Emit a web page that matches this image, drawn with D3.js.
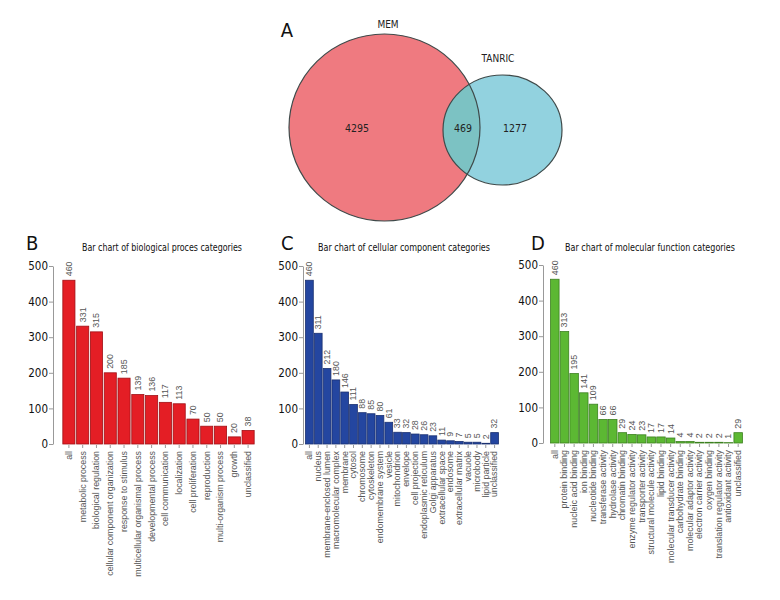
<!DOCTYPE html>
<html><head><meta charset="utf-8">
<script src="https://cdn.jsdelivr.net/npm/d3@7"></script>
<style>body{margin:0;background:#fff}text{font-family:"DejaVu Sans Condensed","DejaVu Sans",sans-serif;font-stretch:condensed}
text.cat,text.val{font-family:"Liberation Sans",Arial,sans-serif;font-stretch:normal}</style>
</head><body>
<svg id="chart" width="780" height="600"></svg>
<script>
// Venn data
const vennSets = ["MEM", "TANRIC"];
const vennCounts = [4295, 469, 1277]; // MEM only, both, TANRIC only

// Panel B
const bpCategories = ["all","metabolic process","biological regulation","cellular component organization","response to stimulus","multicellular organismal process","developmental process","cell communication","localization","cell proliferation","reproduction","multi-organism process","growth","unclassified"];
const bpValues = [460,331,315,200,185,139,136,117,113,70,50,50,20,38];

// Panel C
const ccCategories = ["all","nucleus","membrane-enclosed lumen","macromolecular complex","membrane","cytosol","chromosome","cytoskeleton","endomembrane system","vesicle","mitochondrion","envelope","cell projection","endoplasmic reticulum","Golgi apparatus","extracellular space","endosome","extracellular matrix","vacuole","microbody","lipid particle","unclassified"];
const ccValues = [460,311,212,180,146,111,88,85,80,61,33,32,28,26,23,11,9,7,5,5,2,32];

// Panel D
const mfCategories = ["all","protein binding","nucleic acid binding","ion binding","nucleotide binding","transferase activity","hydrolase activity","chromatin binding","enzyme regulator activity","transporter activity","structural molecule activity","lipid binding","molecular transducer activity","carbohydrate binding","molecular adaptor activity","electron carrier activity","oxygen binding","translation regulator activity","antioxidant activity","unclassified"];
const mfValues = [460,313,195,141,109,66,66,29,24,23,17,17,14,4,4,2,2,2,1,29];

const yTicks = [0,100,200,300,400,500];

const svg = d3.select("#chart");

// ---- Venn ----
const venn = svg.append("g");
const clipId = "clipMem";
svg.append("defs").append("clipPath").attr("id", clipId)
  .append("ellipse").attr("cx",384.5).attr("cy",127.5).attr("rx",95.5).attr("ry",93.5);
venn.append("ellipse").attr("cx",384.5).attr("cy",127.5).attr("rx",95.5).attr("ry",93.5)
  .attr("fill","#ef7a80");
venn.append("ellipse").attr("cx",502.5).attr("cy",130).attr("rx",59.5).attr("ry",55)
  .attr("fill","#92d2df");
venn.append("ellipse").attr("cx",502.5).attr("cy",130).attr("rx",59.5).attr("ry",55)
  .attr("fill","#7cc2c3").attr("clip-path","url(#"+clipId+")");
venn.append("ellipse").attr("cx",384.5).attr("cy",127.5).attr("rx",95.5).attr("ry",93.5)
  .attr("fill","none").attr("stroke","#3f4a4a").attr("stroke-width",1.2);
venn.append("ellipse").attr("cx",502.5).attr("cy",130).attr("rx",59.5).attr("ry",55)
  .attr("fill","none").attr("stroke","#3f4a4a").attr("stroke-width",1.2);
venn.append("text").attr("x",388).attr("y",28).attr("text-anchor","middle").attr("font-size",10).attr("fill","#222").text(vennSets[0]);
venn.append("text").attr("x",498).attr("y",62).attr("text-anchor","middle").attr("font-size",10).attr("fill","#222").text(vennSets[1]);
[[357,vennCounts[0]],[463,vennCounts[1]],[515,vennCounts[2]]].forEach(d=>{
  venn.append("text").attr("x",d[0]).attr("y",132).attr("text-anchor","middle").attr("font-size",10.5).attr("fill","#222").text(d[1]);
});
venn.append("text").attr("x",287).attr("y",37).attr("text-anchor","middle").attr("font-size",20).attr("fill","#111").text("A");

// ---- Bar panels ----
function barPanel(opt){
  const g = svg.append("g");
  const y = d3.scaleLinear().domain([0,500]).range([opt.y0, opt.y500]);
  const x = d3.scaleBand().domain(opt.cats).range([opt.x0, opt.x1]).paddingInner(opt.pad).paddingOuter(opt.pad/2);
  const ax = g.append("g").attr("transform",`translate(${opt.axisX},0)`)
    .call(d3.axisLeft(y).tickValues(yTicks).tickSize(4).tickSizeOuter(0).tickFormat(d3.format("d")));
  ax.select(".domain").attr("stroke","#999");
  ax.selectAll(".tick line").attr("stroke","#999");
  ax.selectAll(".tick text").attr("font-size",11.5).attr("fill","#111").attr("font-family",null).attr("x",-5);
  g.selectAll("rect.bar").data(opt.vals).join("rect").attr("class","bar")
    .attr("x",(d,i)=>x(opt.cats[i])).attr("width",x.bandwidth())
    .attr("y",d=>y(d)).attr("height",d=>opt.y0-y(d))
    .attr("fill",opt.fill).attr("stroke",opt.stroke).attr("stroke-width",0.8);
  // x ticks
  const xa = g.append("g").attr("transform",`translate(0,${opt.y0+1})`)
    .call(d3.axisBottom(x).tickSize(3).tickFormat(""));
  xa.select(".domain").remove();
  xa.selectAll(".tick line").attr("stroke","#999");
  // category labels
  const cats = g.selectAll("text.cat").data(opt.cats).join("text").attr("class","cat")
    .attr("text-anchor","end").attr("font-size",opt.fs).attr("fill","#555").text(d=>d);
  // stretch labels along their reading direction so the longest one spans the reference length
  let maxLen = 0;
  cats.each(function(){ maxLen = Math.max(maxLen, this.getComputedTextLength()); });
  const stretch = opt.longest / maxLen;
  cats.attr("transform",d=>`translate(${x(d)+x.bandwidth()/2+2.9},${opt.y0+7}) rotate(-90) scale(${stretch},1)`);
  // value labels
  g.selectAll("text.val").data(opt.vals).join("text").attr("class","val")
    .attr("transform",(d,i)=>`translate(${x(opt.cats[i])+x.bandwidth()/2+2.9},${y(d)-4}) rotate(-90) scale(${Math.min(stretch,1.2)},1)`)
    .attr("text-anchor","start").attr("font-size",opt.fs).attr("fill","#555").text(d=>d);
  g.append("text").attr("x",opt.titleX).attr("y",251).attr("text-anchor","middle").attr("font-size",10.5)
    .attr("textLength",opt.titleW).attr("lengthAdjust","spacingAndGlyphs").attr("fill","#111").text(opt.title);
  g.append("text").attr("x",opt.letterX).attr("y",250).attr("font-size",20).attr("fill","#111").text(opt.letter);
}

barPanel({cats:bpCategories, vals:bpValues, x0:62, x1:255, pad:0.12, axisX:53, y0:444, y500:266, longest:126,
  fill:"#e41e25", stroke:"#a01015", fs:8.5, title:"Bar chart of biological proces categories", titleX:162, titleW:160, letter:"B", letterX:26});
barPanel({cats:ccCategories, vals:ccValues, x0:305, x1:499, pad:0.12, axisX:303, y0:444, y500:266, longest:107,
  fill:"#2446a0", stroke:"#1a3070", fs:8.5, title:"Bar chart of cellular component categories", titleX:404, titleW:172, letter:"C", letterX:281});
barPanel({cats:mfCategories, vals:mfValues, x0:550, x1:743, pad:0.12, axisX:543, y0:443, y500:265, longest:113,
  fill:"#5cb833", stroke:"#3c8020", fs:8.5, title:"Bar chart of molecular function categories", titleX:650, titleW:170, letter:"D", letterX:531});
</script>
</body></html>
